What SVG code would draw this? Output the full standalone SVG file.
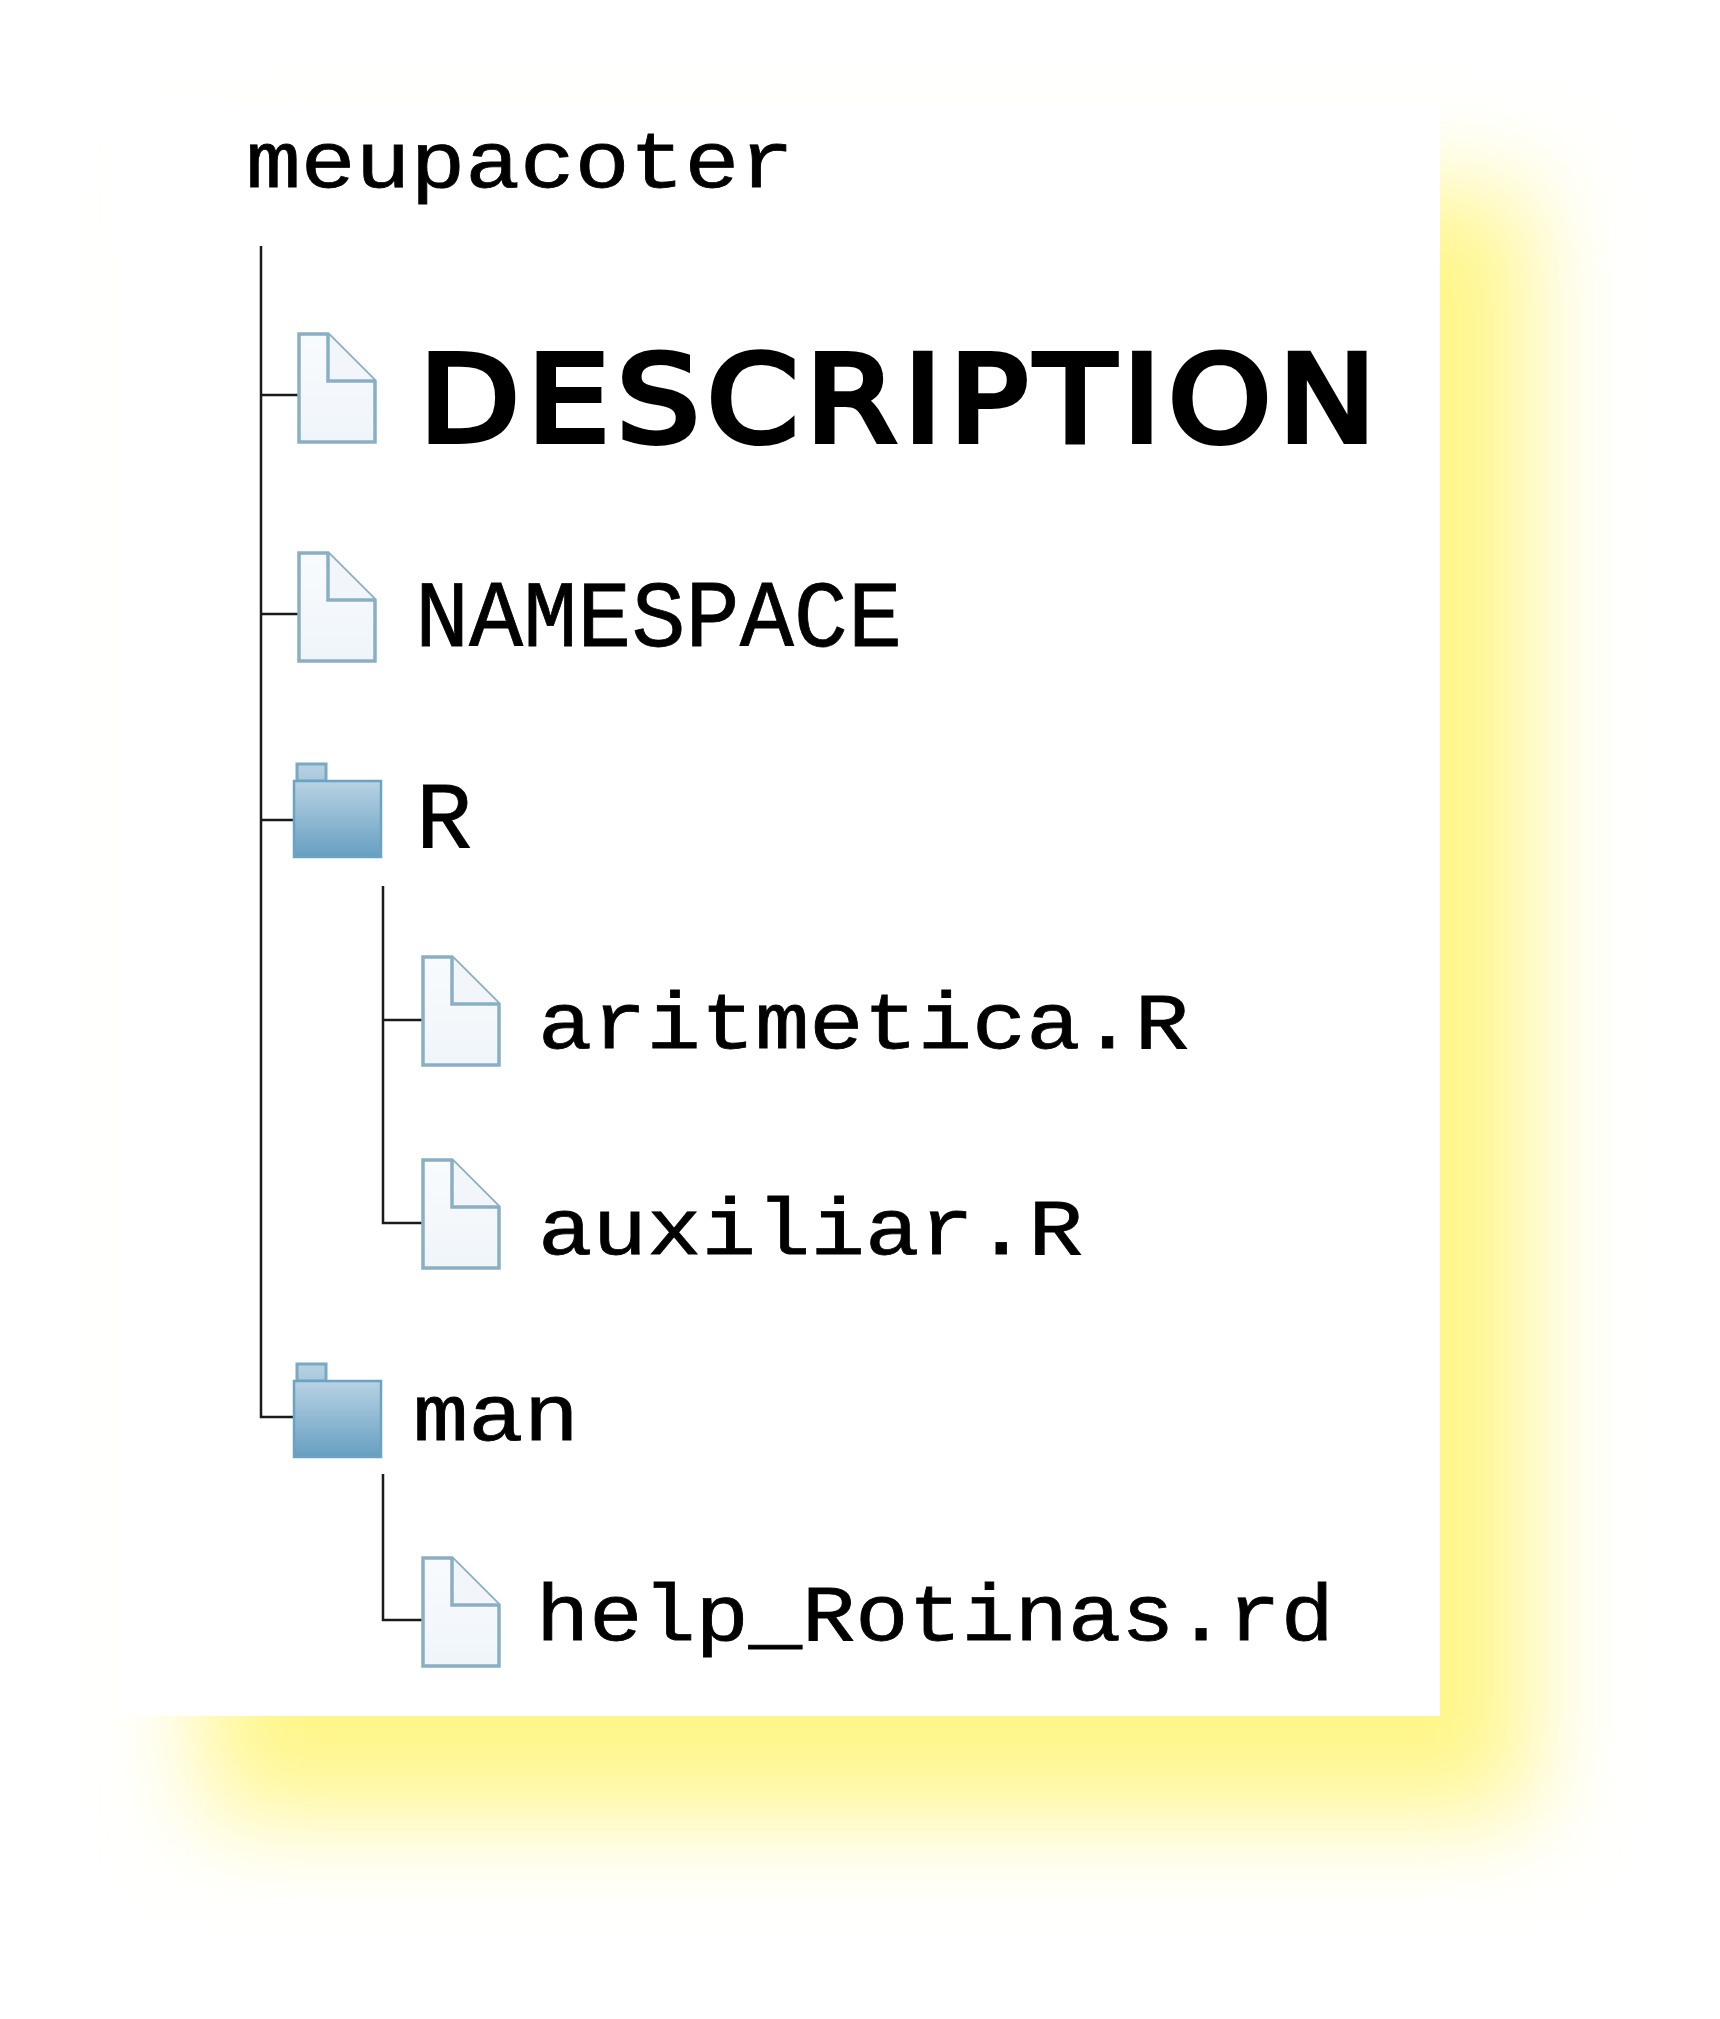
<svg xmlns="http://www.w3.org/2000/svg" width="1720" height="2019" viewBox="0 0 1720 2019">
<defs>
<filter id="blur" x="-20%" y="-20%" width="140%" height="140%"><feGaussianBlur stdDeviation="50"/></filter>
<linearGradient id="fold" x1="0" y1="0" x2="0" y2="1"><stop offset="0" stop-color="#f8fbfe"/><stop offset="1" stop-color="#f0f5f9"/></linearGradient>
<linearGradient id="fg" x1="0" y1="0" x2="0" y2="1"><stop offset="0" stop-color="#b8d2e3"/><stop offset="1" stop-color="#669fc1"/></linearGradient>
<linearGradient id="tab" x1="0" y1="0" x2="0" y2="1"><stop offset="0" stop-color="#b8d2e3"/><stop offset="1" stop-color="#a9c8dc"/></linearGradient>
<g id="file"><path d="M0 0H29L76 47V108H0Z" fill="url(#fold)" stroke="#8aaec3" stroke-width="3.5"/><path d="M29 0V47H76" fill="#f2f6fa" stroke="#8aaec3" stroke-width="3.5"/></g>
<g id="folder"><rect x="3" y="0" width="29" height="17" fill="url(#tab)" stroke="#7aa9c4" stroke-width="3"/><rect x="0" y="17" width="87" height="76" fill="url(#fg)" stroke="#6da3c2" stroke-width="2.5"/></g>
</defs>
<style>
.tt{font-family:"Liberation Mono",monospace;font-size:80px;fill:#000;stroke:#000;stroke-width:.8px}
.cap{font-size:95px}
.c{fill:none;stroke:#1a1a1a;stroke-width:2.5}
</style>
<rect width="1720" height="2019" fill="#fff"/>
<rect id="shadow" x="205" y="190" width="1325" height="1625" fill="#fff688" filter="url(#blur)"/>
<rect id="panel" x="116" y="100" width="1324" height="1616" fill="#fff"/>
<g id="connectors">
<path class="c" d="M261 246V1417H294"/>
<path class="c" d="M261 395H299M261 614H299M261 820H294"/>
<path class="c" d="M383 886V1223H423M383 1020H423"/>
<path class="c" d="M383 1474V1620H423"/>
</g>
<g id="root"><text class="tt" x="246" y="187" textLength="548" lengthAdjust="spacingAndGlyphs">meupacoter</text></g>
<g id="description"><use href="#file" x="299" y="334"/><text transform="translate(419 441) scale(1.09 1)" font-family="'DejaVu Sans',sans-serif" font-size="120" stroke="#000" stroke-width="6" letter-spacing="6.6">DESCRIPTION</text></g>
<g id="namespace"><use href="#file" x="299" y="553"/><text class="tt cap" x="415" y="646" textLength="487" lengthAdjust="spacingAndGlyphs">NAMESPACE</text></g>
<g id="dir-r"><use href="#folder" x="294" y="764"/><text class="tt cap" x="416" y="848" textLength="56" lengthAdjust="spacingAndGlyphs">R</text></g>
<g id="aritmetica"><use href="#file" x="423" y="957"/><text class="tt" x="538" y="1048" textLength="651" lengthAdjust="spacingAndGlyphs">aritmetica.R</text></g>
<g id="auxiliar"><use href="#file" x="423" y="1160"/><text class="tt" x="538" y="1254" textLength="545" lengthAdjust="spacingAndGlyphs">auxiliar.R</text></g>
<g id="dir-man"><use href="#folder" x="294" y="1364"/><text class="tt" x="413" y="1440" textLength="166" lengthAdjust="spacingAndGlyphs">man</text></g>
<g id="help"><use href="#file" x="423" y="1558"/><text class="tt" x="536" y="1640" textLength="798" lengthAdjust="spacingAndGlyphs">help_Rotinas.rd</text></g>
</svg>
